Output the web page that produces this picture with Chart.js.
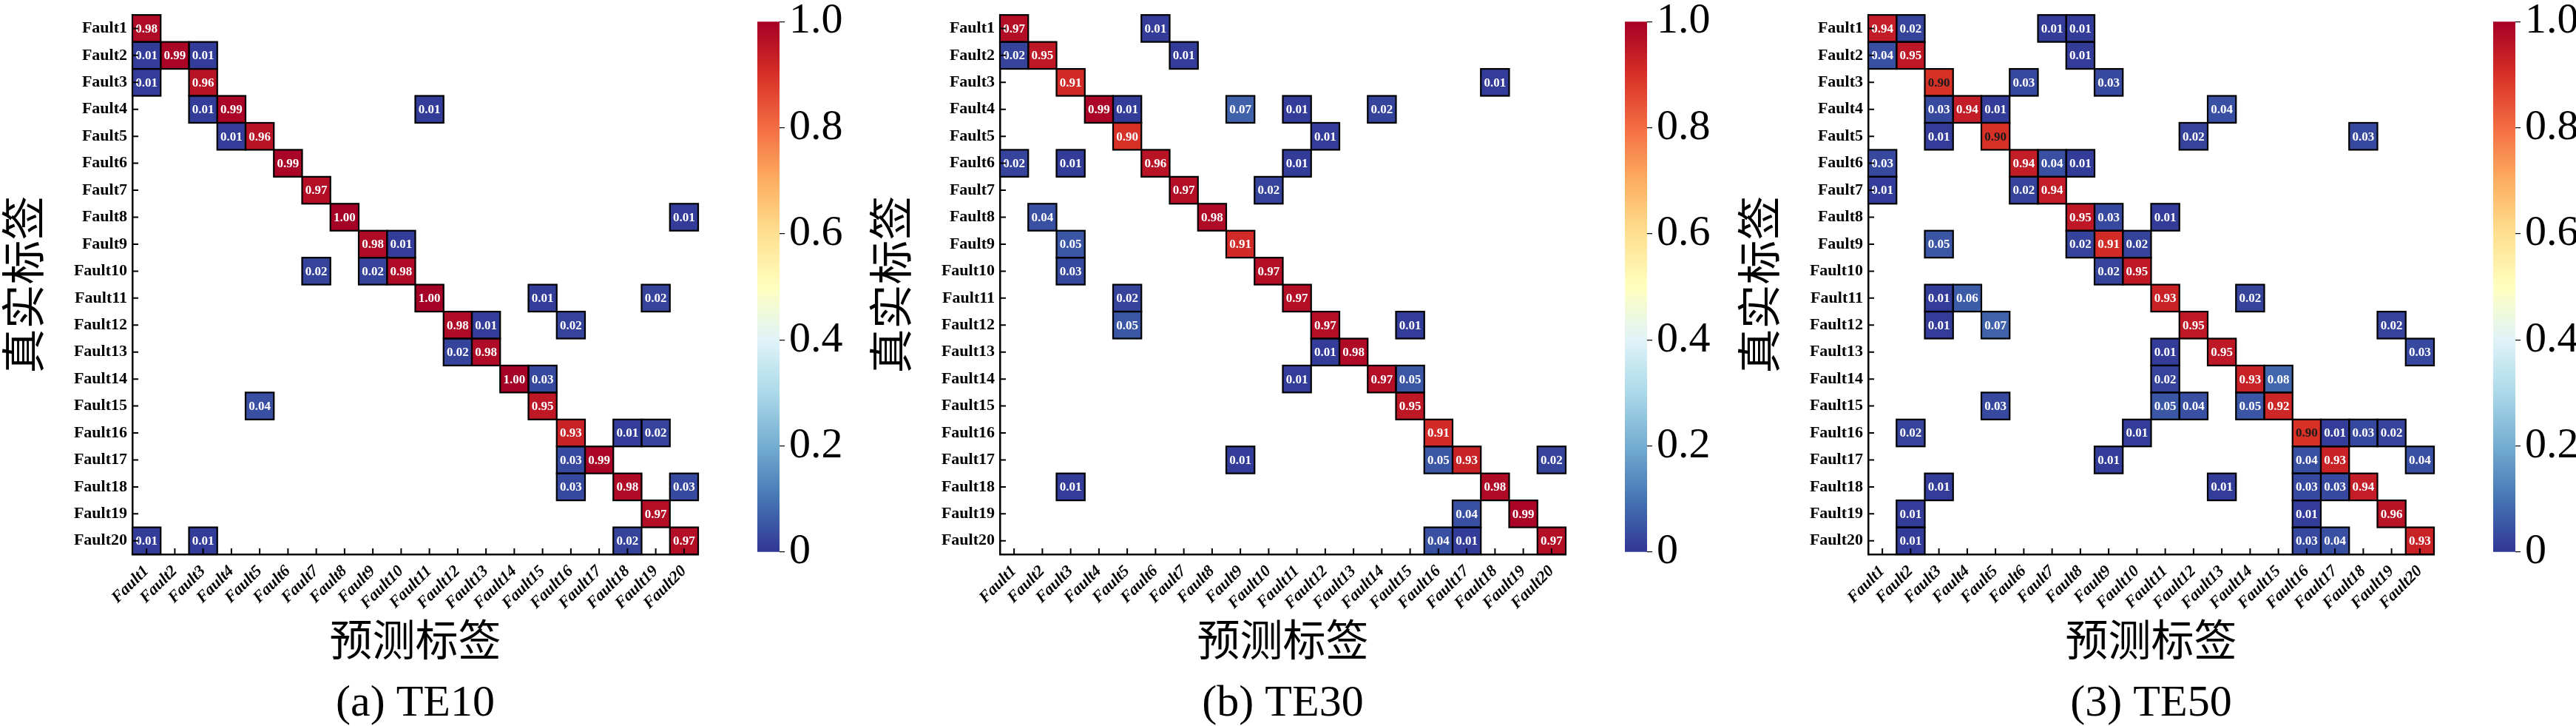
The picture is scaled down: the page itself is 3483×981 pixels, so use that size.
<!DOCTYPE html>
<html>
<head>
<meta charset="utf-8">
<script src="https://cdn.jsdelivr.net/npm/chart.js@4.4.1/dist/chart.umd.min.js"></script>
<style>
  html, body { margin: 0; padding: 0; background: #fff; width: 3483px; height: 981px; overflow: hidden; }
  canvas { position: absolute; top: 0; }
</style>
</head>
<body>
<script>
// categories (same for true and predicted labels)
const faults = ['Fault1', 'Fault2', 'Fault3', 'Fault4', 'Fault5', 'Fault6', 'Fault7', 'Fault8', 'Fault9', 'Fault10',
  'Fault11', 'Fault12', 'Fault13', 'Fault14', 'Fault15', 'Fault16', 'Fault17', 'Fault18', 'Fault19', 'Fault20'];

const captions = ['(a) TE10', '(b) TE30', '(3) TE50'];
const colorbarTicks = [0, 0.2, 0.4, 0.6, 0.8, 1.0];

// confusion matrices, rows = true label, cols = predicted label (0 = empty cell)
const te10 = [
  [.98, 0, 0, 0, 0, 0, 0, 0, 0, 0, 0, 0, 0, 0, 0, 0, 0, 0, 0, 0],
  [.01, .99, .01, 0, 0, 0, 0, 0, 0, 0, 0, 0, 0, 0, 0, 0, 0, 0, 0, 0],
  [.01, 0, .96, 0, 0, 0, 0, 0, 0, 0, 0, 0, 0, 0, 0, 0, 0, 0, 0, 0],
  [0, 0, .01, .99, 0, 0, 0, 0, 0, 0, .01, 0, 0, 0, 0, 0, 0, 0, 0, 0],
  [0, 0, 0, .01, .96, 0, 0, 0, 0, 0, 0, 0, 0, 0, 0, 0, 0, 0, 0, 0],
  [0, 0, 0, 0, 0, .99, 0, 0, 0, 0, 0, 0, 0, 0, 0, 0, 0, 0, 0, 0],
  [0, 0, 0, 0, 0, 0, .97, 0, 0, 0, 0, 0, 0, 0, 0, 0, 0, 0, 0, 0],
  [0, 0, 0, 0, 0, 0, 0, 1.00, 0, 0, 0, 0, 0, 0, 0, 0, 0, 0, 0, .01],
  [0, 0, 0, 0, 0, 0, 0, 0, .98, .01, 0, 0, 0, 0, 0, 0, 0, 0, 0, 0],
  [0, 0, 0, 0, 0, 0, .02, 0, .02, .98, 0, 0, 0, 0, 0, 0, 0, 0, 0, 0],
  [0, 0, 0, 0, 0, 0, 0, 0, 0, 0, 1.00, 0, 0, 0, .01, 0, 0, 0, .02, 0],
  [0, 0, 0, 0, 0, 0, 0, 0, 0, 0, 0, .98, .01, 0, 0, .02, 0, 0, 0, 0],
  [0, 0, 0, 0, 0, 0, 0, 0, 0, 0, 0, .02, .98, 0, 0, 0, 0, 0, 0, 0],
  [0, 0, 0, 0, 0, 0, 0, 0, 0, 0, 0, 0, 0, 1.00, .03, 0, 0, 0, 0, 0],
  [0, 0, 0, 0, .04, 0, 0, 0, 0, 0, 0, 0, 0, 0, .95, 0, 0, 0, 0, 0],
  [0, 0, 0, 0, 0, 0, 0, 0, 0, 0, 0, 0, 0, 0, 0, .93, 0, .01, .02, 0],
  [0, 0, 0, 0, 0, 0, 0, 0, 0, 0, 0, 0, 0, 0, 0, .03, .99, 0, 0, 0],
  [0, 0, 0, 0, 0, 0, 0, 0, 0, 0, 0, 0, 0, 0, 0, .03, 0, .98, 0, .03],
  [0, 0, 0, 0, 0, 0, 0, 0, 0, 0, 0, 0, 0, 0, 0, 0, 0, 0, .97, 0],
  [.01, 0, .01, 0, 0, 0, 0, 0, 0, 0, 0, 0, 0, 0, 0, 0, 0, .02, 0, .97]
];

const te30 = [
  [.97, 0, 0, 0, 0, .01, 0, 0, 0, 0, 0, 0, 0, 0, 0, 0, 0, 0, 0, 0],
  [.02, .95, 0, 0, 0, 0, .01, 0, 0, 0, 0, 0, 0, 0, 0, 0, 0, 0, 0, 0],
  [0, 0, .91, 0, 0, 0, 0, 0, 0, 0, 0, 0, 0, 0, 0, 0, 0, .01, 0, 0],
  [0, 0, 0, .99, .01, 0, 0, 0, .07, 0, .01, 0, 0, .02, 0, 0, 0, 0, 0, 0],
  [0, 0, 0, 0, .90, 0, 0, 0, 0, 0, 0, .01, 0, 0, 0, 0, 0, 0, 0, 0],
  [.02, 0, .01, 0, 0, .96, 0, 0, 0, 0, .01, 0, 0, 0, 0, 0, 0, 0, 0, 0],
  [0, 0, 0, 0, 0, 0, .97, 0, 0, .02, 0, 0, 0, 0, 0, 0, 0, 0, 0, 0],
  [0, .04, 0, 0, 0, 0, 0, .98, 0, 0, 0, 0, 0, 0, 0, 0, 0, 0, 0, 0],
  [0, 0, .05, 0, 0, 0, 0, 0, .91, 0, 0, 0, 0, 0, 0, 0, 0, 0, 0, 0],
  [0, 0, .03, 0, 0, 0, 0, 0, 0, .97, 0, 0, 0, 0, 0, 0, 0, 0, 0, 0],
  [0, 0, 0, 0, .02, 0, 0, 0, 0, 0, .97, 0, 0, 0, 0, 0, 0, 0, 0, 0],
  [0, 0, 0, 0, .05, 0, 0, 0, 0, 0, 0, .97, 0, 0, .01, 0, 0, 0, 0, 0],
  [0, 0, 0, 0, 0, 0, 0, 0, 0, 0, 0, .01, .98, 0, 0, 0, 0, 0, 0, 0],
  [0, 0, 0, 0, 0, 0, 0, 0, 0, 0, .01, 0, 0, .97, .05, 0, 0, 0, 0, 0],
  [0, 0, 0, 0, 0, 0, 0, 0, 0, 0, 0, 0, 0, 0, .95, 0, 0, 0, 0, 0],
  [0, 0, 0, 0, 0, 0, 0, 0, 0, 0, 0, 0, 0, 0, 0, .91, 0, 0, 0, 0],
  [0, 0, 0, 0, 0, 0, 0, 0, .01, 0, 0, 0, 0, 0, 0, .05, .93, 0, 0, .02],
  [0, 0, .01, 0, 0, 0, 0, 0, 0, 0, 0, 0, 0, 0, 0, 0, 0, .98, 0, 0],
  [0, 0, 0, 0, 0, 0, 0, 0, 0, 0, 0, 0, 0, 0, 0, 0, .04, 0, .99, 0],
  [0, 0, 0, 0, 0, 0, 0, 0, 0, 0, 0, 0, 0, 0, 0, .04, .01, 0, 0, .97]
];

const te50 = [
  [.94, .02, 0, 0, 0, 0, .01, .01, 0, 0, 0, 0, 0, 0, 0, 0, 0, 0, 0, 0],
  [.04, .95, 0, 0, 0, 0, 0, .01, 0, 0, 0, 0, 0, 0, 0, 0, 0, 0, 0, 0],
  [0, 0, .90, 0, 0, .03, 0, 0, .03, 0, 0, 0, 0, 0, 0, 0, 0, 0, 0, 0],
  [0, 0, .03, .94, .01, 0, 0, 0, 0, 0, 0, 0, .04, 0, 0, 0, 0, 0, 0, 0],
  [0, 0, .01, 0, .90, 0, 0, 0, 0, 0, 0, .02, 0, 0, 0, 0, 0, .03, 0, 0],
  [.03, 0, 0, 0, 0, .94, .04, .01, 0, 0, 0, 0, 0, 0, 0, 0, 0, 0, 0, 0],
  [.01, 0, 0, 0, 0, .02, .94, 0, 0, 0, 0, 0, 0, 0, 0, 0, 0, 0, 0, 0],
  [0, 0, 0, 0, 0, 0, 0, .95, .03, 0, .01, 0, 0, 0, 0, 0, 0, 0, 0, 0],
  [0, 0, .05, 0, 0, 0, 0, .02, .91, .02, 0, 0, 0, 0, 0, 0, 0, 0, 0, 0],
  [0, 0, 0, 0, 0, 0, 0, 0, .02, .95, 0, 0, 0, 0, 0, 0, 0, 0, 0, 0],
  [0, 0, .01, .06, 0, 0, 0, 0, 0, 0, .93, 0, 0, .02, 0, 0, 0, 0, 0, 0],
  [0, 0, .01, 0, .07, 0, 0, 0, 0, 0, 0, .95, 0, 0, 0, 0, 0, 0, .02, 0],
  [0, 0, 0, 0, 0, 0, 0, 0, 0, 0, .01, 0, .95, 0, 0, 0, 0, 0, 0, .03],
  [0, 0, 0, 0, 0, 0, 0, 0, 0, 0, .02, 0, 0, .93, .08, 0, 0, 0, 0, 0],
  [0, 0, 0, 0, .03, 0, 0, 0, 0, 0, .05, .04, 0, .05, .92, 0, 0, 0, 0, 0],
  [0, .02, 0, 0, 0, 0, 0, 0, 0, .01, 0, 0, 0, 0, 0, .90, .01, .03, .02, 0],
  [0, 0, 0, 0, 0, 0, 0, 0, .01, 0, 0, 0, 0, 0, 0, .04, .93, 0, 0, .04],
  [0, 0, .01, 0, 0, 0, 0, 0, 0, 0, 0, 0, .01, 0, 0, .03, .03, .94, 0, 0],
  [0, .01, 0, 0, 0, 0, 0, 0, 0, 0, 0, 0, 0, 0, 0, .01, 0, 0, .96, 0],
  [0, .01, 0, 0, 0, 0, 0, 0, 0, 0, 0, 0, 0, 0, 0, .03, .04, 0, 0, .93]
];

// RdYlBu reversed
const cmapStops = ['#313695', '#4575b4', '#74add1', '#abd9e9', '#e0f3f8', '#ffffbf',
  '#fee090', '#fdae61', '#f46d43', '#d73027', '#a50026'];

const SERIF = '"Liberation Serif", "Times New Roman", serif';
const CJK = '"Noto Sans CJK SC", sans-serif';

function hexRgb(h) {
  return [parseInt(h.slice(1, 3), 16), parseInt(h.slice(3, 5), 16), parseInt(h.slice(5, 7), 16)];
}

function cellColor(v) {
  const t = Math.min(1, Math.max(0, v)) * 10;
  const i = Math.min(9, Math.floor(t));
  const f = t - i;
  const a = hexRgb(cmapStops[i]), b = hexRgb(cmapStops[i + 1]);
  const c = a.map((x, k) => Math.round(x + (b[k] - x) * f));
  return 'rgb(' + c.join(',') + ')';
}

function cellPlugin(matrix, darkRange) {
  return {
    id: 'cells',
    afterDatasetsDraw(chart) {
      const ctx = chart.ctx;
      const area = chart.chartArea;
      const cells = [];
      chart.data.datasets.forEach((ds, r) => {
        chart.getDatasetMeta(r).data.forEach((bar, c) => {
          const v = matrix[r][c];
          if (!(v > 0)) return;
          const p = bar.getProps(['x', 'y', 'base', 'width'], true);
          cells.push({ v, x: p.x - p.width / 2, y: Math.min(p.y, p.base), w: p.width, h: Math.abs(p.base - p.y) });
        });
      });
      ctx.save();
      ctx.strokeStyle = '#000';
      ctx.lineWidth = 2.2;
      cells.forEach(c => ctx.strokeRect(c.x, c.y, c.w, c.h));
      ctx.font = 'bold 17px ' + SERIF;
      ctx.textAlign = 'center';
      ctx.textBaseline = 'middle';
      cells.forEach(c => {
        const dark = darkRange && c.v >= darkRange[0] && c.v <= darkRange[1];
        ctx.fillStyle = dark ? '#1a1a1a' : '#fff';
        ctx.fillText(c.v.toFixed(2), c.x + c.w / 2, c.y + c.h / 2 + 1);
      });
      // inward tick marks
      const xs = chart.scales.x, ys = chart.scales.y;
      ctx.lineWidth = 2;
      ctx.beginPath();
      xs.ticks.forEach((t, i) => {
        const px = xs.getPixelForTick(i);
        ctx.moveTo(px, area.bottom);
        ctx.lineTo(px, area.bottom - 8);
      });
      ys.ticks.forEach((t, i) => {
        const py = ys.getPixelForTick(i);
        ctx.moveTo(area.left, py);
        ctx.lineTo(area.left + 8, py);
      });
      ctx.stroke();
      ctx.restore();
    }
  };
}

function addCanvas(left, width) {
  const cv = document.createElement('canvas');
  cv.width = width;
  cv.height = 981;
  cv.style.left = left + 'px';
  cv.style.width = width + 'px';
  cv.style.height = '981px';
  document.body.appendChild(cv);
  return cv;
}

function drawMatrix(left, matrix, caption, darkRange) {
  const cv = addCanvas(left, 1000);
  const datasets = matrix.map((row, r) => ({
    data: row.map(v => v > 0 ? [r + 0.5, r + 1.5] : null),
    backgroundColor: row.map(v => cellColor(v)),
    borderWidth: 0,
    grouped: false,
    categoryPercentage: 1,
    barPercentage: 1
  }));
  new Chart(cv, {
    type: 'bar',
    data: { labels: faults, datasets },
    options: {
      responsive: false,
      animation: false,
      devicePixelRatio: 1,
      events: [],
      layout: { padding: { left: 0, top: 16, right: 56, bottom: 0 } },
      plugins: {
        legend: { display: false },
        tooltip: { enabled: false },
        title: {
          display: true,
          text: caption,
          position: 'bottom',
          fullSize: false,
          color: '#000',
          font: { family: SERIF, size: 60, weight: 'normal', lineHeight: 1 },
          padding: { top: 4, bottom: 0 }
        }
      },
      scales: {
        x: {
          type: 'category',
          offset: true,
          grid: { display: false, drawTicks: false },
          border: { display: true, color: '#000', width: 2.5 },
          ticks: {
            color: '#000',
            autoSkip: false,
            minRotation: 45,
            maxRotation: 45,
            padding: 10,
            font: { family: SERIF, size: 22, weight: 'bold', style: 'italic' }
          },
          title: {
            display: true,
            text: '预测标签',
            color: '#000',
            font: { family: CJK, size: 58, lineHeight: 1 },
            padding: { top: 0, bottom: 24 }
          },
          afterFit(s) { s.height = 168; }
        },
        y: {
          type: 'linear',
          reverse: true,
          min: 0.5,
          max: 20.5,
          grid: { display: false, drawTicks: false },
          border: { display: true, color: '#000', width: 2.5 },
          afterBuildTicks(s) { s.ticks = faults.map((f, i) => ({ value: i + 1 })); },
          ticks: {
            color: '#000',
            padding: 7,
            font: { family: SERIF, size: 22, weight: 'bold' },
            callback: v => faults[v - 1]
          },
          title: {
            display: true,
            text: '真实标签',
            color: '#000',
            font: { family: CJK, size: 60, lineHeight: 1 },
            padding: { top: 1, bottom: 0 }
          },
          afterFit(s) { s.width = 179; }
        }
      }
    },
    plugins: [cellPlugin(matrix, darkRange)]
  });
}

function barGradient(chart) {
  const area = chart.chartArea;
  if (!area) return cmapStops[0];
  const g = chart.ctx.createLinearGradient(0, area.bottom, 0, area.top);
  cmapStops.forEach((c, i) => g.addColorStop(i / (cmapStops.length - 1), c));
  return g;
}

function drawColorbar(left) {
  const cv = addCanvas(left + 1000, 170);
  new Chart(cv, {
    type: 'bar',
    data: {
      labels: [''],
      datasets: [{
        data: [[colorbarTicks[0], colorbarTicks[colorbarTicks.length - 1]]],
        backgroundColor: c => barGradient(c.chart),
        borderWidth: 0,
        barPercentage: 1,
        categoryPercentage: 1
      }]
    },
    options: {
      responsive: false,
      animation: false,
      devicePixelRatio: 1,
      events: [],
      layout: { padding: { left: 24, top: 25, right: 0, bottom: 235 } },
      plugins: { legend: { display: false }, tooltip: { enabled: false } },
      scales: {
        x: { display: false },
        y: {
          position: 'right',
          min: 0,
          max: 1,
          afterBuildTicks(s) { s.ticks = colorbarTicks.map(v => ({ value: v })); },
          grid: { display: true, drawOnChartArea: false, drawTicks: true, tickLength: 7, color: '#000', lineWidth: 1.2 },
          border: { display: false },
          ticks: {
            color: '#000',
            padding: 6,
            font: { family: SERIF, size: 58, lineHeight: 0.8 },
            callback: v => v === 0 ? '0' : v.toFixed(1)
          },
          afterFit(s) { s.width = 116; }
        }
      }
    }
  });
}

const panelLeft = [0, 1173, 2347];
const matrices = [te10, te30, te50];
const darkText = [null, null, [0.5, 0.9]];

matrices.forEach((m, i) => {
  drawMatrix(panelLeft[i], m, captions[i], darkText[i]);
  drawColorbar(panelLeft[i]);
});
</script>
</body>
</html>
